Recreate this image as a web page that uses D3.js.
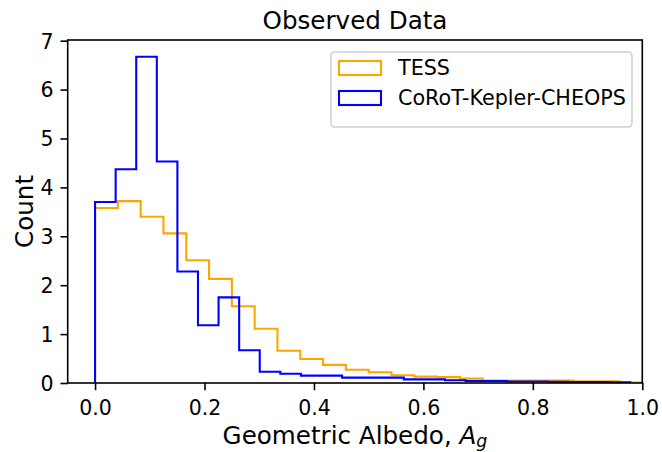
<!DOCTYPE html>
<html>
<head>
<meta charset="utf-8">
<script src="https://cdn.jsdelivr.net/npm/d3@7"></script>
<style>
  body { margin: 0; background: #fff; }
  svg text { font-family: "DejaVu Sans", sans-serif; fill: #000; }
</style>
</head>
<body>
<svg id="chart" width="662" height="452"></svg>
<script>
// histogram densities
var tessRange = [0, 1];
var tessDensity = [3.58, 3.72, 3.40, 3.06, 2.51, 2.13, 1.57, 1.11, 0.66, 0.49,
  0.37, 0.27, 0.22, 0.16, 0.13, 0.12, 0.09, 0.05, 0.05, 0.05, 0.05, 0.035, 0.035, 0.01];

var ckcRange = [0, 0.978];
var ckcDensity = [3.70, 4.37, 6.67, 4.53, 2.28, 1.18, 1.75, 0.67, 0.23, 0.19,
  0.15, 0.15, 0.11, 0.11, 0.11, 0.075, 0.075, 0.055, 0.04, 0.04,
  0.03, 0.03, 0.025, 0.02, 0.02, 0.015];

var seriesNames = ["TESS", "CoRoT-Kepler-CHEOPS"];
var seriesColors = ["orange", "blue"];
var xTicks = [0, 0.2, 0.4, 0.6, 0.8, 1.0];
var yTicks = [0, 1, 2, 3, 4, 5, 6, 7];

(function () {
  var svg = d3.select("#chart");
  var mLeft = 67.7, mRight = 642.3, mTop = 40, mBottom = 383;

  var x = d3.scaleLinear().domain([-0.05, 1.0]).range([mLeft, mRight]);
  var y = d3.scaleLinear().domain([0, 6.68 * 1.05]).range([mBottom, mTop]);

  var stepPath = function (range, dens) {
    var n = dens.length;
    var w = (range[1] - range[0]) / n;
    var pts = [[range[0], 0]];
    dens.forEach(function (v, i) {
      pts.push([range[0] + i * w, v]);
      pts.push([range[0] + (i + 1) * w, v]);
    });
    pts.push([range[1], 0]);
    return d3.line()
      .x(function (d) { return x(d[0]); })
      .y(function (d) { return y(d[1]); })(pts);
  };

  svg.append("clipPath").attr("id", "clip")
    .append("rect").attr("x", mLeft).attr("y", mTop)
    .attr("width", mRight - mLeft).attr("height", mBottom - mTop);

  [[tessRange, tessDensity], [ckcRange, ckcDensity]].forEach(function (s, i) {
    svg.append("path")
      .attr("d", stepPath(s[0], s[1]))
      .attr("clip-path", "url(#clip)")
      .attr("fill", "none")
      .attr("stroke", seriesColors[i])
      .attr("stroke-width", 2.1);
  });

  // axes
  var xAxis = svg.append("g")
    .attr("transform", "translate(0," + mBottom + ")")
    .call(d3.axisBottom(x).tickValues(xTicks).tickFormat(d3.format(".1f"))
      .tickSize(7.2).tickPadding(6));
  var yAxis = svg.append("g")
    .attr("transform", "translate(" + mLeft + ",0)")
    .call(d3.axisLeft(y).tickValues(yTicks).tickFormat(d3.format("d"))
      .tickSize(7.2).tickPadding(7));

  [xAxis, yAxis].forEach(function (ax) {
    ax.select(".domain").remove();
    ax.selectAll(".tick line").attr("stroke", "#000").attr("stroke-width", 1.6);
    ax.selectAll(".tick text").attr("font-size", 20.5)
      .attr("font-family", "DejaVu Sans");
  });
  xAxis.selectAll(".tick text").attr("dy", null).attr("y", 31.5);
  yAxis.selectAll(".tick text").attr("dy", "0.36em");

  svg.append("rect")
    .attr("x", mLeft).attr("y", mTop)
    .attr("width", mRight - mLeft).attr("height", mBottom - mTop)
    .attr("fill", "none").attr("stroke", "#000").attr("stroke-width", 1.6);

  // labels
  svg.append("text")
    .attr("x", (mLeft + mRight) / 2).attr("y", 29)
    .attr("text-anchor", "middle").attr("font-size", 24.6)
    .text("Observed Data");

  var xl = svg.append("text")
    .attr("x", (mLeft + mRight) / 2).attr("y", 443.5)
    .attr("text-anchor", "middle").attr("font-size", 24.6);
  xl.append("tspan").text("Geometric Albedo, ");
  xl.append("tspan").attr("font-style", "italic").text("A");
  xl.append("tspan").attr("font-style", "italic").attr("font-size", 17.4)
    .attr("dy", 3).text("g");

  svg.append("text")
    .attr("transform", "translate(33," + (mTop + mBottom) / 2 + ") rotate(-90)")
    .attr("text-anchor", "middle").attr("font-size", 24.6)
    .text("Count");

  // legend
  var lg = svg.append("g");
  lg.append("rect")
    .attr("x", 331).attr("y", 52).attr("width", 301).attr("height", 75)
    .attr("rx", 4).attr("fill", "#fff").attr("fill-opacity", 0.8)
    .attr("stroke", "#d0d0d0").attr("stroke-width", 1.6);
  seriesNames.forEach(function (name, i) {
    var yy = 61 + i * 30;
    lg.append("rect")
      .attr("x", 339).attr("y", yy).attr("width", 42).attr("height", 14)
      .attr("fill", "none").attr("stroke", seriesColors[i]).attr("stroke-width", 2.1);
    lg.append("text")
      .attr("x", 398).attr("y", yy + 14.3).attr("font-size", 20.7)
      .text(name);
  });
})();
</script>
</body>
</html>
